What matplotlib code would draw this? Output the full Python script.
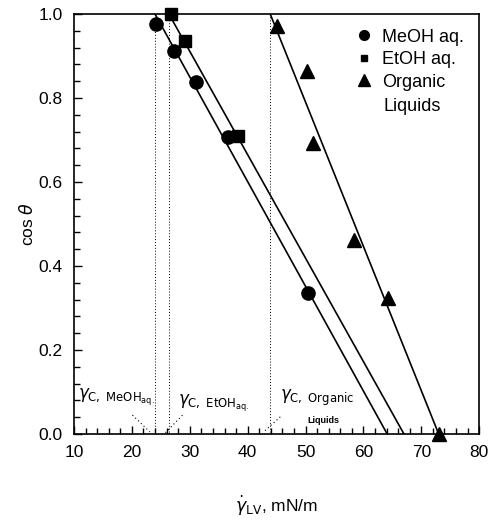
import numpy as np
import matplotlib.pyplot as plt
from matplotlib.lines import Line2D
from matplotlib.ticker import MultipleLocator

plt.rcParams['font.family'] = ['Liberation Sans', 'DejaVu Sans']
plt.rcParams['mathtext.fontset'] = 'dejavusans'

# measured points
meoh_x = [24.2, 27.3, 31.1, 36.6, 50.4]
meoh_y = [0.976, 0.912, 0.839, 0.708, 0.336]
etoh_x = [26.7, 29.1, 38.4]
etoh_y = [1.0, 0.936, 0.710]
org_x = [45.1, 50.3, 51.3, 58.4, 64.3, 73.0]
org_y = [0.971, 0.865, 0.692, 0.462, 0.323, 0.0]

# fitted lines: x where cos=1 (critical tension) and x where cos=0
gamma_c = [24.0, 26.4, 43.9]
x_zero = [64.1, 67.0, 73.0]

fig = plt.figure(figsize=(4.9, 5.21), dpi=100)
ax = fig.add_axes([0.151, 0.167, 0.827, 0.806])

for gc, xz in zip(gamma_c, x_zero):
    ax.plot([gc, xz], [1.0, 0.0], color='black', lw=1.2, zorder=2)
    ax.plot([gc, gc], [1.0, 0.0], color='black', lw=0.7, ls=(0, (1, 2)), zorder=1)

ax.plot(meoh_x, meoh_y, 'o', color='black', ms=9.5, zorder=3, clip_on=False)
ax.plot(etoh_x, etoh_y, 's', color='black', ms=8, zorder=3, clip_on=False)
ax.plot(org_x, org_y, '^', color='black', ms=9.5, zorder=3, clip_on=False)

# gamma_c labels with dotted pointers
ax.text(10.7, 0.088, r'$\gamma_{\mathrm{C,\ MeOH_{aq.}}}$', fontsize=12, va='center')
ax.plot([20.1, 23.1], [0.045, 0.005], color='black', lw=0.8, ls=(0, (1, 2.5)))
ax.text(27.9, 0.073, r'$\gamma_{\mathrm{C,\ EtOH_{aq.}}}$', fontsize=12, va='center')
ax.plot([25.8, 28.9], [0.003, 0.047], color='black', lw=0.8, ls=(0, (1, 2.5)))
ax.text(45.6, 0.085, r'$\gamma_{\mathrm{C,\ Organic}}$', fontsize=12, va='center')
ax.text(50.4, 0.033, 'Liquids', fontsize=6.5, va='center', fontweight='bold')
ax.plot([43.0, 45.8], [0.008, 0.043], color='black', lw=0.8, ls=(0, (1, 2.5)))

handles = [
    Line2D([], [], marker='o', color='black', ls='none', ms=7),
    Line2D([], [], marker='s', color='black', ls='none', ms=5),
    Line2D([], [], marker='^', color='black', ls='none', ms=8),
]
ax.legend(handles, ['MeOH aq.', 'EtOH aq.', 'Organic'], loc='upper left',
          bbox_to_anchor=(0.677, 0.98), frameon=False, fontsize=13,
          handlelength=1.0, handletextpad=0.5, labelspacing=0.3,
          borderaxespad=0.0, borderpad=0.35)
ax.text(0.764, 0.78, 'Liquids', transform=ax.transAxes, fontsize=13, va='center')

ax.set_xlim(10, 80)
ax.set_ylim(0, 1.0)
ax.xaxis.set_major_locator(MultipleLocator(10))
ax.xaxis.set_minor_locator(MultipleLocator(2))
ax.yaxis.set_major_locator(MultipleLocator(0.2))
ax.yaxis.set_minor_locator(MultipleLocator(0.04))
ax.yaxis.set_major_formatter(plt.FormatStrFormatter('%.1f'))
ax.tick_params(which='both', direction='in', top=False, right=False, labelsize=12.5, width=1.0)
ax.tick_params(which='major', length=6, pad=8)
ax.tick_params(which='minor', length=4)
for s in ax.spines.values():
    s.set_linewidth(1.2)

ax.set_xlabel(r'$\dot{\gamma}_{\mathrm{LV}}$, mN/m', fontsize=12.5, labelpad=24)
ax.set_ylabel(r'cos $\theta$', fontsize=12.5, labelpad=2)

fig.savefig('out.png', dpi=100)
